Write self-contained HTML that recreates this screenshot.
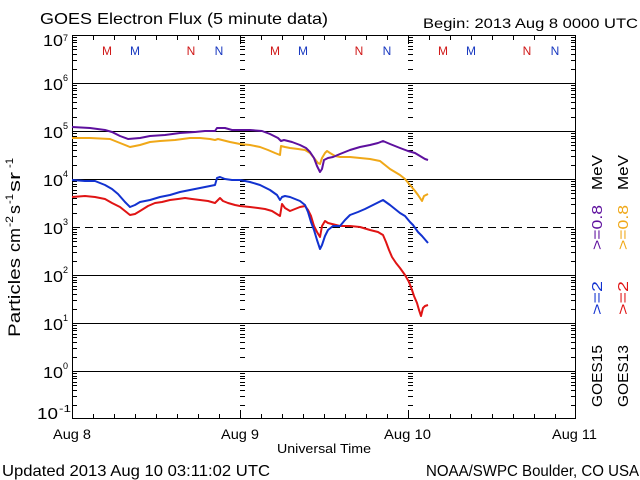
<!DOCTYPE html>
<html><head><meta charset="utf-8">
<style>
html,body{margin:0;padding:0;background:#fff;}
svg{display:block;}
text{font-family:"Liberation Sans",sans-serif;fill:#000;}
</style></head>
<body>
<svg width="640" height="480" viewBox="0 0 640 480" xmlns="http://www.w3.org/2000/svg">
<defs>
<g id="dec"><path d="M0 -13.5h5M0 -22.5h5M0 -28.5h5M0 -33.5h5M0 -36.5h5M0 -40.5h5M0 -42.5h5M0 -45.5h5" stroke="#000" stroke-width="1" fill="none"/></g>
<g id="col">
<use href="#dec" y="83"/><use href="#dec" y="131"/><use href="#dec" y="179"/><use href="#dec" y="227"/>
<use href="#dec" y="275"/><use href="#dec" y="323"/><use href="#dec" y="371"/><use href="#dec" y="419"/>
</g>
</defs>
<rect width="640" height="480" fill="#fff"/>

<!-- titles -->
<text x="40" y="24" font-size="16" textLength="288" lengthAdjust="spacingAndGlyphs">GOES Electron Flux (5 minute data)</text>
<text x="423" y="28" font-size="14" textLength="215" lengthAdjust="spacingAndGlyphs">Begin: 2013 Aug 8 0000 UTC</text>

<!-- grid lines -->
<g stroke="#000" stroke-width="1" shape-rendering="crispEdges">
<line x1="72" y1="83.5" x2="576" y2="83.5"/>
<line x1="72" y1="131.5" x2="576" y2="131.5"/>
<line x1="72" y1="179.5" x2="576" y2="179.5"/>
<line x1="72" y1="227.5" x2="576" y2="227.5" stroke-dasharray="8 5"/>
<line x1="72" y1="275.5" x2="576" y2="275.5"/>
<line x1="72" y1="323.5" x2="576" y2="323.5"/>
<line x1="72" y1="371.5" x2="576" y2="371.5"/>
</g>

<!-- log ticks -->
<g shape-rendering="crispEdges">
<use href="#col" x="72"/>
<use href="#col" x="240"/>
<use href="#col" x="408"/>
<use href="#col" x="571"/>
</g>

<!-- x ticks -->
<path shape-rendering="crispEdges" stroke="#000" stroke-width="1" fill="none" d="
M93.5 35v5M114.5 35v5M135.5 35v5M156.5 35v5M177.5 35v5M198.5 35v5M219.5 35v5
M261.5 35v5M282.5 35v5M303.5 35v5M324.5 35v5M345.5 35v5M366.5 35v5M387.5 35v5
M429.5 35v5M450.5 35v5M471.5 35v5M492.5 35v5M513.5 35v5M534.5 35v5M555.5 35v5
M93.5 414v5M114.5 414v5M135.5 414v5M156.5 414v5M177.5 414v5M198.5 414v5M219.5 414v5
M261.5 414v5M282.5 414v5M303.5 414v5M324.5 414v5M345.5 414v5M366.5 414v5M387.5 414v5
M429.5 414v5M450.5 414v5M471.5 414v5M492.5 414v5M513.5 414v5M534.5 414v5M555.5 414v5
M240.5 35v9M408.5 35v9M240.5 410v9M408.5 410v9"/>

<!-- frame -->
<rect x="72.5" y="35.5" width="503" height="383" fill="none" stroke="#000" stroke-width="1" shape-rendering="crispEdges"/>

<!-- M / N markers -->
<g font-size="12" text-anchor="middle">
<text x="107" y="55" style="fill:#d01818">M</text><text x="135" y="55" style="fill:#1838c0">M</text>
<text x="191" y="55" style="fill:#d01818">N</text><text x="219" y="55" style="fill:#1838c0">N</text>
<text x="275" y="55" style="fill:#d01818">M</text><text x="303" y="55" style="fill:#1838c0">M</text>
<text x="359" y="55" style="fill:#d01818">N</text><text x="387" y="55" style="fill:#1838c0">N</text>
<text x="443" y="55" style="fill:#d01818">M</text><text x="471" y="55" style="fill:#1838c0">M</text>
<text x="527" y="55" style="fill:#d01818">N</text><text x="555" y="55" style="fill:#1838c0">N</text>
</g>

<!-- data -->
<g fill="none" stroke-width="2" stroke-linejoin="round">
<polyline stroke="#f0a818" points="72,138 90,138 110,139 120,143 130,147 140,145 150,142 160,141 175,140 190,138 200,138 210,139 215,140 218,139 222,140 230,142 240,144 250,145 260,147 268,150 275,153 280,155 281,146 285,147 290,148 298,149 305,150 310,153 314,158 318,163 320,164 322,158 325,153 327,151 330,153 335,156 340,157 350,157 360,158 370,159 380,161 385,165 390,169 400,175 405,179 410,185 415,191 418,195 420,198 422,201 424,196 426,195 428,194"/>
<polyline stroke="#5e109e" points="72,127 90,128 105,130 112,132 120,136 128,139 140,138 150,136 165,135 180,133 195,132 205,131 215,131 217,128 225,128 232,130 240,130 250,130 262,131 270,134 278,138 281,141 284,140 292,142 300,145 306,148 310,152 314,158 317,166 320,172 322,169 324,160 328,158 333,157 340,154 350,150 360,147 370,145 378,143 383,141 390,144 400,148 408,151 415,153 420,156 425,159 428,160"/>
<polyline stroke="#e01414" points="72,197 85,196 95,197 105,199 112,203 120,207 125,211 130,215 135,214 140,211 148,206 155,203 162,202 170,200 178,199 185,198 192,199 200,200 208,201 215,203 218,200 220,198 223,201 228,203 235,205 240,206 250,207 258,208 265,209 272,211 280,216 282,204 285,208 290,211 295,209 300,207 305,206 308,210 311,216 314,226 317,232 320,237 322,226 325,221 328,223 332,224 340,226 350,226 360,227 370,230 378,232 383,235 386,242 389,250 392,257 396,263 400,268 405,275 409,282 412,290 414,296 417,303 419,310 421,316 423,308 425,306 428,305"/>
<polyline stroke="#1232d0" points="72,180 85,181 95,181 105,185 112,189 118,194 125,202 130,207 135,205 140,202 150,200 160,197 170,195 180,192 190,190 200,188 210,186 215,185 217,178 220,177 225,179 232,180 240,180 250,182 260,185 270,190 277,195 280,200 282,197 285,196 290,197 295,199 300,201 305,205 308,212 311,222 314,230 317,240 320,249 322,245 325,236 328,230 333,226 340,226 345,220 350,215 358,212 365,209 375,204 383,200 390,205 395,209 400,213 405,216 410,222 413,225 418,232 422,236 428,243"/>
</g>

<!-- y tick labels -->
<g font-size="16">
<text x="43" y="46" textLength="20" lengthAdjust="spacingAndGlyphs">10</text><text x="63" y="41" font-size="9">7</text>
<text x="43" y="90" textLength="20" lengthAdjust="spacingAndGlyphs">10</text><text x="63" y="81" font-size="9">6</text>
<text x="43" y="138" textLength="20" lengthAdjust="spacingAndGlyphs">10</text><text x="63" y="129" font-size="9">5</text>
<text x="43" y="186" textLength="20" lengthAdjust="spacingAndGlyphs">10</text><text x="63" y="177" font-size="9">4</text>
<text x="43" y="234" textLength="20" lengthAdjust="spacingAndGlyphs">10</text><text x="63" y="225" font-size="9">3</text>
<text x="43" y="282" textLength="20" lengthAdjust="spacingAndGlyphs">10</text><text x="63" y="273" font-size="9">2</text>
<text x="43" y="330" textLength="20" lengthAdjust="spacingAndGlyphs">10</text><text x="63" y="321" font-size="9">1</text>
<text x="43" y="378" textLength="20" lengthAdjust="spacingAndGlyphs">10</text><text x="63" y="369" font-size="9">0</text>
<text x="37" y="419" textLength="21" lengthAdjust="spacingAndGlyphs">10</text><text x="59" y="412" font-size="10" textLength="12" lengthAdjust="spacingAndGlyphs">-1</text>
</g>

<!-- y axis title -->
<g font-size="17">
<text transform="translate(20,337) rotate(-90)" textLength="79" lengthAdjust="spacingAndGlyphs">Particles</text>
<text transform="translate(20,252) rotate(-90)" textLength="24" lengthAdjust="spacingAndGlyphs">cm</text>
<text transform="translate(13,227) rotate(-90)" font-size="11" textLength="11" lengthAdjust="spacingAndGlyphs">-2</text>
<text transform="translate(20,214) rotate(-90)" textLength="9" lengthAdjust="spacingAndGlyphs">s</text>
<text transform="translate(13,204) rotate(-90)" font-size="11" textLength="10" lengthAdjust="spacingAndGlyphs">-1</text>
<text transform="translate(20,192) rotate(-90)" textLength="20" lengthAdjust="spacingAndGlyphs">sr</text>
<text transform="translate(13,168) rotate(-90)" font-size="11" textLength="10" lengthAdjust="spacingAndGlyphs">-1</text>
</g>

<!-- right legend -->
<g font-size="15">
<text transform="translate(602,407) rotate(-90)" textLength="62" lengthAdjust="spacingAndGlyphs">GOES15</text>
<text transform="translate(602,315) rotate(-90)" textLength="34" lengthAdjust="spacingAndGlyphs" style="fill:#1232d0">&gt;=2</text>
<text transform="translate(602,250) rotate(-90)" textLength="45" lengthAdjust="spacingAndGlyphs" style="fill:#5e109e">&gt;=0.8</text>
<text transform="translate(602,190) rotate(-90)" textLength="35" lengthAdjust="spacingAndGlyphs">MeV</text>
<text transform="translate(628,407) rotate(-90)" textLength="62" lengthAdjust="spacingAndGlyphs">GOES13</text>
<text transform="translate(628,315) rotate(-90)" textLength="34" lengthAdjust="spacingAndGlyphs" style="fill:#e01414">&gt;=2</text>
<text transform="translate(628,250) rotate(-90)" textLength="45" lengthAdjust="spacingAndGlyphs" style="fill:#f0a818">&gt;=0.8</text>
<text transform="translate(628,190) rotate(-90)" textLength="35" lengthAdjust="spacingAndGlyphs">MeV</text>
</g>

<!-- x labels -->
<g font-size="14">
<text x="53" y="439" textLength="38" lengthAdjust="spacingAndGlyphs">Aug 8</text>
<text x="221" y="439" textLength="38" lengthAdjust="spacingAndGlyphs">Aug 9</text>
<text x="384" y="439" textLength="47" lengthAdjust="spacingAndGlyphs">Aug 10</text>
<text x="552" y="439" textLength="45" lengthAdjust="spacingAndGlyphs">Aug 11</text>
<text x="277" y="453" font-size="13" textLength="94" lengthAdjust="spacingAndGlyphs">Universal Time</text>
</g>

<!-- footer -->
<text x="2" y="476" font-size="16" textLength="268" lengthAdjust="spacingAndGlyphs">Updated 2013 Aug 10 03:11:02 UTC</text>
<text x="426" y="476" font-size="16" textLength="213" lengthAdjust="spacingAndGlyphs">NOAA/SWPC Boulder, CO USA</text>
</svg>
</body></html>
